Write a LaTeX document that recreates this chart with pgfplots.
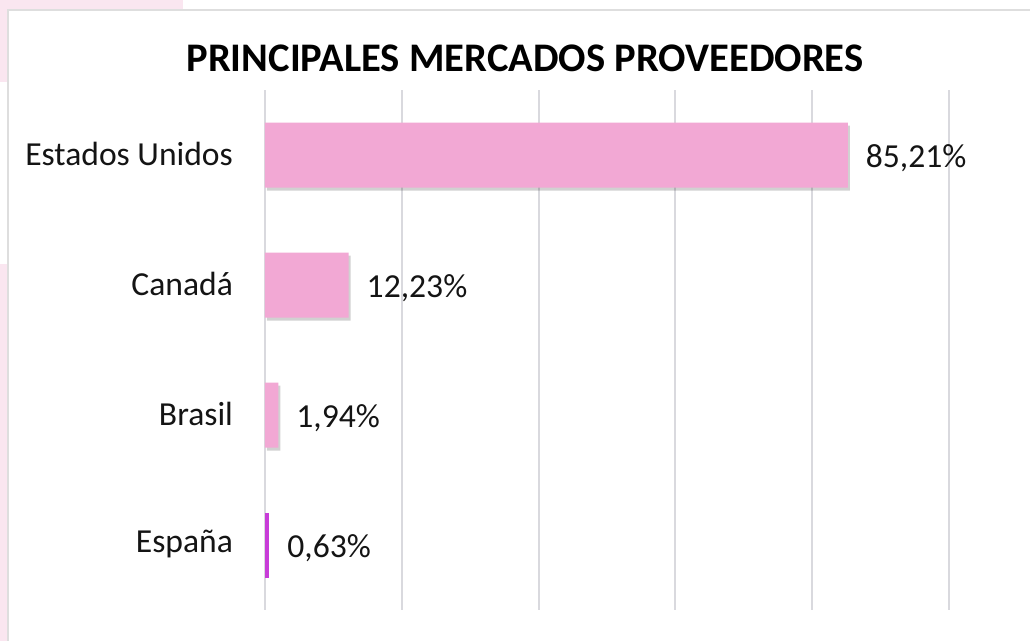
\documentclass[border=0pt]{standalone}
\usepackage{pgfplots}
\pgfplotsset{compat=1.18}
\usepackage{fontspec}
\setmainfont{Carlito}
\usetikzlibrary{shadows}
\definecolor{barpink}{RGB}{242,168,212}
\definecolor{espmag}{RGB}{200,60,216}
\definecolor{gridc}{RGB}{217,217,222}
\definecolor{bgpink}{RGB}{250,230,240}
\definecolor{framec}{RGB}{222,222,222}
\definecolor{textc}{RGB}{20,20,20}
\begin{document}
\begin{tikzpicture}
\useasboundingbox (0,0) rectangle (515pt,-320.5pt);
\fill[white] (0,0) rectangle (515pt,-320.5pt);
\fill[bgpink] (0,0) rectangle (91.5pt,-5pt);
\fill[bgpink] (0,0) rectangle (3.5pt,-41pt);
\fill[bgpink] (0,-132pt) rectangle (3.5pt,-320.5pt);
\draw[framec, line width=1pt] (4pt,-320.5pt) -- (4pt,-5pt) -- (515pt,-5pt);
\node[font=\fontsize{20.3}{24}\selectfont\bfseries] at (262.5pt,-29pt) {PRINCIPALES MERCADOS PROVEEDORES};
\begin{axis}[
  at={(132.5pt,-305pt)}, anchor=south west,
  scale only axis, width=342pt, height=260pt,
  xmin=0, xmax=100, ymin=-0.5, ymax=3.5, y dir=reverse,
  xbar, bar width=32.5pt, bar shift=0pt,
  axis lines=left, axis line style={draw=none},
  xtick={0,20,...,100}, xticklabels={}, xmajorgrids,
  grid style={gridc, line width=1pt},
  ytick={0,1,2,3}, yticklabels={Estados Unidos,Canadá,Brasil,España},
  major tick length=0pt,
  yticklabel style={font=\fontsize{16.8}{20}\selectfont, xshift=-12.5pt, yshift=0.5pt, text=textc},
  /pgf/number format/assume math mode=true,
  point meta=x,
  nodes near coords={\pgfmathprintnumber[fixed,fixed zerofill,precision=2,use comma]{\pgfplotspointmeta}\%},
  nodes near coords style={font=\fontsize{16.8}{20}\selectfont, anchor=west, xshift=5.5pt, yshift=-1.5pt, text=textc},
]
\addplot[fill=barpink, draw=none, drop shadow={shadow xshift=1pt, shadow yshift=-1.5pt, opacity=0.18, fill=black}] coordinates {(85.21,0) (12.23,1) (1.94,2)};
\addplot[fill=espmag, draw=none] coordinates {(0.63,3)};
\end{axis}
\end{tikzpicture}
\end{document}
